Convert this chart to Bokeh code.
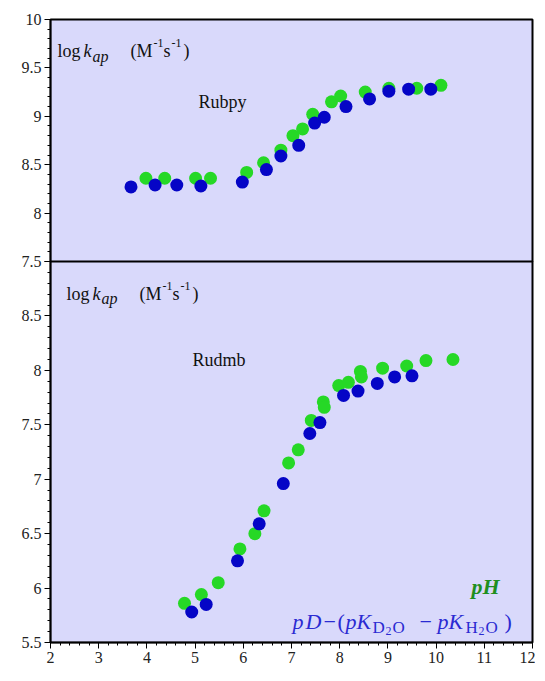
import numpy as np
from bokeh.plotting import figure
from bokeh.models import SingleIntervalTicker, Range1d
from bokeh.layouts import column
from bokeh.core.properties import value
from bokeh.embed import file_html
from bokeh.resources import INLINE

# ---------------- data ----------------
# Rubpy panel
rubpy_ph_x = [3.98, 4.37, 5.01, 5.32, 6.07, 6.42, 6.78, 7.03, 7.23, 7.44, 7.83, 8.02, 8.53, 9.02, 9.60, 10.10]
rubpy_ph_y = [8.36, 8.36, 8.36, 8.36, 8.42, 8.52, 8.65, 8.80, 8.87, 9.02, 9.15, 9.21, 9.25, 9.29, 9.29, 9.32]
rubpy_pd_x = [3.67, 4.17, 4.62, 5.12, 5.98, 6.48, 6.78, 7.15, 7.48, 7.68, 8.13, 8.62, 9.02, 9.43, 9.89]
rubpy_pd_y = [8.27, 8.29, 8.29, 8.28, 8.32, 8.45, 8.59, 8.70, 8.93, 8.99, 9.10, 9.18, 9.26, 9.28, 9.28]

# Rudmb panel
rudmb_ph_x = [4.78, 5.13, 5.48, 5.93, 6.24, 6.43, 6.94, 7.14, 7.41, 7.66, 7.68, 7.98, 8.18, 8.43, 8.45, 8.89, 9.39, 9.79, 10.35]
rudmb_ph_y = [5.86, 5.94, 6.05, 6.36, 6.50, 6.71, 7.15, 7.27, 7.54, 7.71, 7.66, 7.86, 7.89, 7.99, 7.94, 8.02, 8.04, 8.09, 8.10]
rudmb_pd_x = [4.93, 5.23, 5.88, 6.33, 6.83, 7.38, 7.59, 8.08, 8.38, 8.78, 9.14, 9.50]
rudmb_pd_y = [5.78, 5.85, 6.25, 6.59, 6.96, 7.42, 7.52, 7.77, 7.81, 7.88, 7.94, 7.95]

x_ticks = [2, 3, 4, 5, 6, 7, 8, 9, 10, 11, 12]
x_labels = ["2", "3", "4", "5", "6", "7", "8", "9", "10", "11", "12"]
top_y_ticks = [7.5, 8, 8.5, 9, 9.5, 10]
top_y_labels = ["7.5", "8", "8.5", "9", "9.5", "10"]
bot_y_ticks = [5.5, 6, 6.5, 7, 7.5, 8, 8.5, 9]
bot_y_labels = ["5.5", "6", "6.5", "7", "7.5", "8", "8.5", ""]

# ---------------- style ----------------
BG = "#d9d9fb"
GREEN = "#26d826"
BLUE = "#0505c6"
SERIF = "Liberation Serif"
FW = 482
LEFT = 50
RIGHT = 3
SHIFT = -6   # screen-space correction for text baseline


def style_axis(ax):
    ax.axis_line_color = "black"
    ax.axis_line_width = 1.5
    ax.major_tick_line_color = "black"
    ax.minor_tick_line_color = "black"
    ax.major_tick_in = 0
    ax.major_tick_out = 6
    ax.minor_tick_in = 0
    ax.minor_tick_out = 3
    ax.major_label_text_font = SERIF
    ax.major_label_text_font_size = "16px"
    ax.major_label_text_color = "#222222"
    ax.major_label_standoff = 3


def base_fig(ymin, ymax, fh, **kw):
    p = figure(x_range=Range1d(2, 12), y_range=Range1d(ymin, ymax),
               frame_width=FW, frame_height=fh, output_backend="svg",
               toolbar_location=None, tools="", **kw)
    p.background_fill_color = BG
    p.outline_line_color = "black"
    p.outline_line_width = 2
    p.xgrid.visible = False
    p.ygrid.visible = False
    p.min_border_left = LEFT
    p.min_border_right = RIGHT
    return p


def tx(p, x, y, t, size, style="normal", color="#111111", dy=0):
    p.text(x=[x], y=[y], text=[t], text_font=value(SERIF),
           text_font_size=f"{size}px", text_font_style=style,
           text_color=color, text_align="left", text_baseline="alphabetic",
           y_offset=dy + SHIFT)


def px2x(px):
    return 2 + (px - LEFT) / (FW / 10)


def kap_label(p, x0, ybase):
    # log k_ap (M^-1 s^-1)
    pieces = [("log", 0, 18, "normal", 0), ("k", 26, 18, "italic", 0),
              ("ap", 35, 16, "italic", 5), ("(M", 73, 18, "normal", 0),
              ("-1", 96, 12, "normal", -8), ("s", 106, 18, "normal", 0),
              ("-1", 114, 12, "normal", -8), (")", 126, 18, "normal", 0)]
    for t, off, size, style, dy in pieces:
        tx(p, px2x(x0 + off), ybase, t, size, style, dy=dy)


# ---------------- top panel (Rubpy) ----------------
TOP_H = 242
TOP0 = 19
p1 = base_fig(7.5, 10, TOP_H, x_axis_location=None)
p1.min_border_top = TOP0
p1.min_border_bottom = 10
p1.yaxis.ticker = SingleIntervalTicker(interval=0.5, num_minor_ticks=5)
p1.yaxis.major_label_overrides = dict(zip(top_y_ticks, top_y_labels))
style_axis(p1.yaxis[0])

p1.scatter(rubpy_ph_x, rubpy_ph_y, size=13, fill_color=GREEN, line_color=None)
p1.scatter(rubpy_pd_x, rubpy_pd_y, size=13, fill_color=BLUE, line_color=None)

y_top = lambda py: 10 - (py - TOP0) / (TOP_H / 2.5)
kap_label(p1, 57, y_top(56.7))
tx(p1, px2x(198), y_top(107.3), "Rubpy", 18)

# ---------------- bottom panel (Rudmb) ----------------
BOT_H = 381
BOT0 = TOP0 + TOP_H
p2 = base_fig(5.5, 9.0, BOT_H)
p2.min_border_top = 0
p2.min_border_bottom = 32
p2.border_fill_alpha = 0
p2.margin = (-10, 0, 0, 0)
p2.yaxis.ticker = SingleIntervalTicker(interval=0.5, num_minor_ticks=5)
p2.yaxis.major_label_overrides = dict(zip(bot_y_ticks, bot_y_labels))
p2.xaxis.ticker = SingleIntervalTicker(interval=1, num_minor_ticks=5)
p2.xaxis.major_label_overrides = dict(zip(x_ticks, x_labels))
style_axis(p2.yaxis[0])
style_axis(p2.xaxis[0])

p2.scatter(rudmb_ph_x, rudmb_ph_y, size=13, fill_color=GREEN, line_color=None)
p2.scatter(rudmb_pd_x, rudmb_pd_y, size=13, fill_color=BLUE, line_color=None)

y_bot = lambda py: 9.0 - (py - BOT0) / (BOT_H / 3.5)
kap_label(p2, 66, y_bot(299))
tx(p2, px2x(192), y_bot(365), "Rudmb", 18)

# legend-like annotations
tx(p2, px2x(471), y_bot(591.7), "pH", 22, "bold italic", color="#1f8f1f")
FB = "#2a2ad2"
yb = y_bot(627.3)
formula = [("p", 292, 22, "italic", 0), ("D", 305, 22, "italic", 0),
           ("\u2212", 323, 22, "normal", 0), ("(", 337, 22, "normal", 0),
           ("pK", 345, 22, "italic", 0), ("D", 372, 17, "normal", 6),
           ("2", 385, 12, "normal", 9), ("O", 392, 17, "normal", 6),
           ("\u2212", 419, 22, "normal", 0), ("pK", 437, 22, "italic", 0),
           ("H", 465, 17, "normal", 6), ("2", 478, 12, "normal", 9),
           ("O", 485, 17, "normal", 6), (")", 504, 22, "normal", 0)]
for t, px, size, style, dy in formula:
    tx(p2, px2x(px), yb, t, size, style, color=FB, dy=dy)

layout = column(p1, p2, spacing=0)
open("out.html", "w").write(file_html(layout, INLINE))
